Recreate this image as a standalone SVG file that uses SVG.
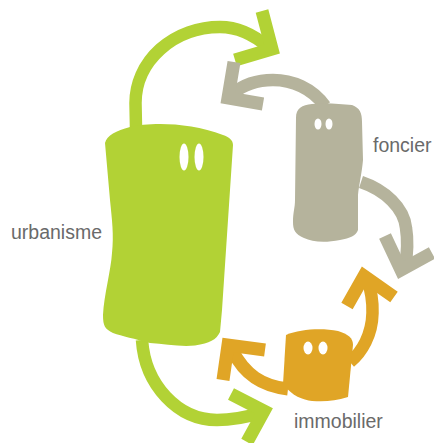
<svg xmlns="http://www.w3.org/2000/svg" width="434" height="443" viewBox="0 0 434 443">
<style>
.c{fill:none;stroke-width:12.500;stroke-miterlimit:10}
.h{stroke-width:13}
.g{stroke:#b2d235}.t{stroke:#b5b39c}.o{stroke:#e0a526}
.eye{fill:#fff}
text{font-family:"Liberation Sans",Arial,sans-serif;font-size:19.500px;fill:#6a6a6a}
</style>
<rect width="434" height="443" fill="#fff"/>
<g id="connectors">
<path class="c g" d="M136 128L135.500 103A84.500 76 0 0 1 220 27C238 27 254 35 268 47"/>
<path class="c g h" d="M262 11L272 49L235 60"/>
<path class="c t" d="M325 106C312 88 292 80 273 80C258 80 244 84 232 94"/>
<path class="c t h" d="M234 62L228 98L263 104"/>
<path class="c t" d="M361 182C385 190 404 208 406 228C408 240 408 250 405 268"/>
<path class="c t h" d="M385 236L401 270L432 253"/>
<path class="c o" d="M350 362C362 352 372 335 372.500 313C373 300 371 290 367 278"/>
<path class="c o h" d="M347 306L364 276L394 297"/>
<path class="c o" style="stroke-width:13" d="M288 389C262 386 245 375 232 350"/>
<path class="c o h" d="M223 380L228 345L265 350"/>
<path class="c g" d="M142 340C145 385 178 420 217 420C233 420 247 417 260 413"/>
<path class="c g h" d="M231 394L264 411L247 442"/>
</g>
<g id="urbanisme">
<path fill="#b2d235" d="M105 143C107 135 116 131 130 127C150 122 190 122 223 135C229 137 233 140 233 145L228 220L222 310L220 332C216 340 210 343 195 345.500C180 347 165 344 150 343C135 339 122 336 113 333C105 329 103 326 103 315C104 295 111 270 112 253C114 235 112 220 110 200Z"/>
<ellipse class="eye" cx="184" cy="157" rx="4.500" ry="13.500"/>
<ellipse class="eye" cx="199" cy="157" rx="4.500" ry="13.500"/>
<text x="11" y="239">urbanisme</text>
</g>
<g id="foncier">
<path fill="#b5b39c" d="M296 118C296 108 302 105 312 104C325 102 340 104 352 105C360 108 362 113 362 122L363 160C362 172 359 185 358 195L358 230C356 236 350 238 340 240C325 243 312 242 304 238C295 234 293 230 293 222C293 212 295 208 295 200Z"/>
<ellipse class="eye" cx="318" cy="124" rx="3.500" ry="5.500"/>
<ellipse class="eye" cx="329" cy="124" rx="3.500" ry="5.500"/>
<text x="373" y="152">foncier</text>
</g>
<g id="immobilier">
<path fill="#e0a526" d="M286 335C300 329 322 328 338 331C348 334 353 338 353 345L348 397C335 401 325 402 312 401C303 400 292 396 283 384Z"/>
<ellipse class="eye" cx="308" cy="348" rx="4.500" ry="6.500"/>
<ellipse class="eye" cx="323" cy="348" rx="4.500" ry="6.500"/>
<text x="294" y="428">immobilier</text>
</g>
</svg>
